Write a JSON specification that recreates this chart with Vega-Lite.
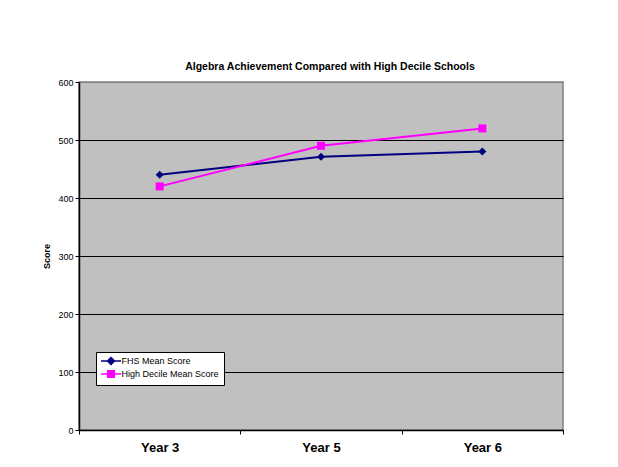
{
  "$schema": "https://vega.github.io/schema/vega-lite/v6.json",
  "width": 484,
  "height": 348,
  "autosize": {"type": "none"},
  "padding": {"left": 79, "top": 82, "right": 55, "bottom": 37},
  "background": "white",
  "title": {
    "text": "Algebra Achievement Compared with High Decile Schools",
    "font": "Liberation Sans",
    "fontSize": 10.5,
    "fontWeight": "bold",
    "color": "black",
    "offset": 6,
    "dx": 9
  },
  "data": {
    "values": [
      {"series": "FHS Mean Score", "year": "Year 3", "score": 440},
      {"series": "FHS Mean Score", "year": "Year 5", "score": 471},
      {"series": "FHS Mean Score", "year": "Year 6", "score": 480},
      {"series": "High Decile Mean Score", "year": "Year 3", "score": 420},
      {"series": "High Decile Mean Score", "year": "Year 5", "score": 490},
      {"series": "High Decile Mean Score", "year": "Year 6", "score": 520}
    ]
  },
  "encoding": {
    "x": {
      "field": "year",
      "type": "nominal",
      "sort": ["Year 3", "Year 5", "Year 6"],
      "scale": {"type": "band", "paddingInner": 0, "paddingOuter": 0},
      "axis": {
        "title": null,
        "labelAngle": 0,
        "labelFont": "Liberation Sans",
        "labelFontSize": 13,
        "labelFontWeight": "bold",
        "labelColor": "black",
        "labelPadding": 7,
        "tickBand": "extent",
        "tickColor": "black",
        "tickSize": 4,
        "domainColor": "black",
        "domainWidth": 1.5,
        "grid": false
      }
    },
    "y": {
      "field": "score",
      "type": "quantitative",
      "scale": {"domain": [0, 600], "nice": false},
      "axis": {
        "title": "Score",
        "titleFont": "Liberation Sans",
        "titleFontSize": 9,
        "titleFontWeight": "bold",
        "titleColor": "black",
        "titlePadding": 6,
        "values": [0, 100, 200, 300, 400, 500, 600],
        "labelFont": "Liberation Sans",
        "labelFontSize": 9,
        "labelColor": "black",
        "labelPadding": 2,
        "tickColor": "black",
        "tickSize": 4,
        "domainColor": "black",
        "domainWidth": 1.5,
        "grid": true,
        "gridColor": {"condition": {"test": "datum.value === 600", "value": "#808080"}, "value": "black"},
        "gridWidth": 1,
        "gridOpacity": 1
      }
    },
    "color": {
      "field": "series",
      "type": "nominal",
      "scale": {"domain": ["FHS Mean Score", "High Decile Mean Score"], "range": ["#000080", "#FF00FF"]},
      "legend": {
        "title": null,
        "orient": "none",
        "legendX": 17,
        "legendY": 270,
        "fillColor": "white",
        "strokeColor": "black",
        "cornerRadius": 0,
        "padding": 4.5,
        "rowPadding": 0,
        "symbolSize": 49,
        "symbolOffset": 6,
        "labelOffset": 6,
        "labelFont": "Liberation Sans",
        "labelFontSize": 9,
        "labelColor": "black",
        "encode": {
          "symbols": {
            "update": {
              "shape": {"signal": "datum.value === 'FHS Mean Score' ? 'M-2.86,0H2.86M0,-1L1,0L0,1L-1,0Z' : 'M-2.86,0H2.86M-0.95,-0.95H0.95V0.95H-0.95Z'"},
              "fill": {"signal": "datum.value === 'FHS Mean Score' ? '#000080' : '#FF00FF'"},
              "stroke": {"signal": "datum.value === 'FHS Mean Score' ? '#000080' : '#FF00FF'"},
              "strokeWidth": {"value": 1.5},
              "opacity": {"value": 1},
              "fillOpacity": {"value": 1}
            }
          }
        }
      }
    }
  },
  "layer": [
    {"mark": {"type": "line", "strokeWidth": 2}},
    {
      "mark": {"type": "point", "filled": true, "opacity": 1},
      "encoding": {
        "shape": {"condition": {"test": "datum.series === 'FHS Mean Score'", "value": "diamond"}, "value": "square"},
        "size": {"value": 64}
      }
    }
  ],
  "config": {
    "view": {"fill": "#C0C0C0", "stroke": "#808080", "strokeWidth": 1.5},
    "font": "Liberation Sans"
  }
}
